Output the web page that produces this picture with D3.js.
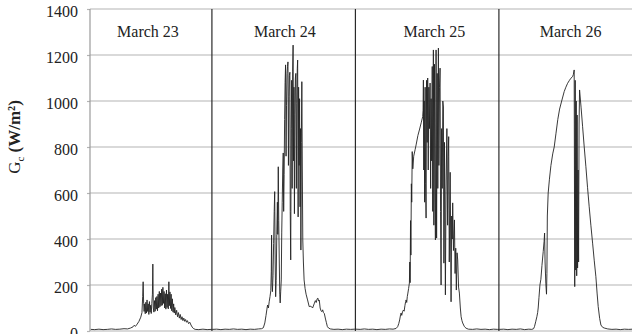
<!DOCTYPE html>
<html>
<head>
<meta charset="utf-8">
<script src="https://cdn.jsdelivr.net/npm/d3@7"></script>
<style>
  body { margin: 0; background: #fff; }
  text { font-family: "Liberation Serif", "Times New Roman", serif; }
</style>
</head>
<body>
<div id="viz"></div>
<script>
// irradiance readings per day: [hour of the day, Gc in W/m2]
const day1 = [[3.75,7],[4.4,6],[5.1,8],[5.8,6],[6.5,7],[7.2,9],[7.9,7],[8.6,8],[9.3,10],[9.9,9],[10.4,13],[10.8,18],[11.0,25],[11.2,20],[11.5,30],[11.8,42],[12.1,60],[12.3,80],[12.42,150],[12.5,214],[12.58,120],[12.66,85],[12.75,118],[12.85,75],[12.95,125],[13.05,78],[13.15,135],[13.25,85],[13.35,118],[13.45,72],[13.55,128],[13.65,82],[13.75,112],[13.85,76],[13.95,120],[14.05,160],[14.12,291],[14.2,100],[14.3,82],[14.4,132],[14.5,86],[14.6,145],[14.7,95],[14.8,150],[14.9,88],[15.0,160],[15.1,100],[15.2,172],[15.3,105],[15.4,165],[15.5,110],[15.6,182],[15.7,112],[15.8,190],[15.9,120],[16.0,172],[16.1,100],[16.2,162],[16.3,95],[16.4,178],[16.5,102],[16.6,160],[16.7,96],[16.8,214],[16.88,110],[16.98,170],[17.08,98],[17.18,160],[17.28,88],[17.38,140],[17.5,82],[17.6,118],[17.7,78],[17.8,102],[17.95,70],[18.1,90],[18.25,62],[18.4,80],[18.55,56],[18.7,72],[18.85,50],[19.0,62],[19.15,45],[19.3,56],[19.45,42],[19.6,50],[19.75,38],[19.9,45],[20.1,32],[20.3,38],[20.5,26],[20.7,17],[20.9,11],[21.2,7],[21.8,6],[22.5,8],[23.2,6],[23.9,7]];

const day2 = [[0.1,7],[0.8,8],[1.5,6],[2.2,8],[2.9,7],[3.6,9],[4.3,7],[5.0,8],[5.7,6],[6.4,8],[7.1,7],[7.8,9],[8.3,10],[8.6,14],[8.85,35],[9.05,68],[9.2,95],[9.31,113],[9.45,100],[9.58,127],[9.72,150],[9.85,175],[9.93,260],[9.98,417],[10.05,210],[10.12,171],[10.22,240],[10.32,380],[10.42,520],[10.5,606],[10.58,300],[10.66,149],[10.75,220],[10.85,420],[10.95,560],[11.02,420],[11.1,714],[11.18,480],[11.27,300],[11.35,160],[11.42,122],[11.5,170],[11.6,222],[11.68,430],[11.76,560],[11.85,700],[11.93,774],[12.0,520],[12.08,680],[12.16,920],[12.24,1080],[12.32,1157],[12.4,760],[12.48,980],[12.56,1120],[12.64,1150],[12.72,1170],[12.8,720],[12.88,1020],[12.96,1110],[13.04,1125],[13.1,520],[13.18,309],[13.26,880],[13.34,1090],[13.42,620],[13.5,1130],[13.58,1243],[13.65,740],[13.72,1060],[13.8,510],[13.88,940],[13.96,1100],[14.04,1120],[14.12,620],[14.2,990],[14.28,1140],[14.34,1178],[14.42,496],[14.5,1060],[14.58,720],[14.66,1010],[14.74,540],[14.82,880],[14.88,352],[14.96,820],[15.04,1084],[15.12,700],[15.2,396],[15.3,300],[15.42,222],[15.58,185],[15.75,160],[16.0,135],[16.27,106],[16.55,108],[16.84,100],[17.1,118],[17.3,132],[17.45,124],[17.6,140],[17.72,143],[17.85,130],[17.96,134],[18.1,100],[18.25,88],[18.38,84],[18.52,92],[18.66,80],[18.8,76],[19.0,52],[19.15,36],[19.3,20],[19.5,13],[19.8,9],[20.4,7],[21.1,8],[21.8,6],[22.5,8],[23.2,7],[23.9,8]];

const day3 = [[0.1,8],[0.8,7],[1.5,9],[2.2,7],[2.9,8],[3.6,6],[4.3,8],[5.0,7],[5.7,9],[6.3,8],[6.8,11],[7.07,19],[7.25,32],[7.4,48],[7.55,70],[7.64,78],[7.75,68],[7.88,84],[8.03,91],[8.15,86],[8.28,110],[8.4,128],[8.48,135],[8.58,124],[8.68,150],[8.78,165],[8.9,185],[9.03,209],[9.1,300],[9.15,210],[9.22,480],[9.28,330],[9.36,640],[9.42,560],[9.5,780],[9.6,705],[9.75,760],[10.0,790],[10.15,809],[10.45,850],[10.7,874],[11.0,905],[11.25,932],[11.32,960],[11.37,1091],[11.43,700],[11.5,1000],[11.58,560],[11.66,1060],[11.74,640],[11.82,491],[11.9,1090],[12.0,820],[12.09,1100],[12.18,700],[12.28,1060],[12.38,880],[12.49,1078],[12.58,620],[12.66,1010],[12.75,740],[12.85,1150],[12.93,520],[13.04,1222],[13.12,460],[13.22,1160],[13.3,600],[13.38,396],[13.49,1222],[13.58,404],[13.68,1120],[13.78,620],[13.88,1230],[13.96,720],[14.06,1060],[14.16,1143],[14.24,520],[14.33,200],[14.42,880],[14.52,620],[14.62,1000],[14.72,974],[14.8,295],[14.9,820],[15.05,157],[15.15,600],[15.3,880],[15.42,460],[15.52,760],[15.6,845],[15.7,300],[15.85,690],[16.0,127],[16.1,500],[16.2,400],[16.27,557],[16.4,350],[16.56,483],[16.67,250],[16.78,360],[16.88,178],[17.0,340],[17.11,309],[17.25,191],[17.39,165],[17.55,100],[17.68,62],[17.82,45],[17.94,35],[18.23,19],[18.51,12],[18.9,8],[19.6,7],[20.3,9],[21.0,7],[21.7,8],[22.4,6],[23.1,8],[23.8,7]];

const day4 = [[0.1,7],[0.8,8],[1.5,6],[2.2,8],[2.9,7],[3.6,9],[4.3,6],[5.0,8],[5.5,7],[5.8,10],[5.95,19],[6.15,40],[6.35,62],[6.48,80],[6.57,100],[6.7,145],[6.86,200],[7.02,225],[7.2,285],[7.41,345],[7.56,390],[7.64,426],[7.72,300],[7.85,205],[7.96,160],[8.03,250],[8.1,500],[8.24,600],[8.45,660],[8.7,720],[9.0,770],[9.25,800],[9.55,860],[9.85,920],[10.15,965],[10.5,1000],[10.92,1041],[11.2,1060],[11.49,1077],[11.8,1090],[12.04,1099],[12.32,1106],[12.45,1115],[12.59,1135],[12.68,193],[12.76,1090],[12.84,265],[12.93,1000],[13.01,240],[13.08,939],[13.16,274],[13.24,700],[13.33,300],[13.41,900],[13.49,1048],[13.75,970],[14.0,888],[14.27,800],[14.55,714],[14.82,625],[15.1,540],[15.38,460],[15.67,382],[15.95,305],[16.22,236],[16.42,165],[16.61,106],[16.85,55],[17.06,26],[17.35,16],[17.61,13],[18.2,9],[18.9,7],[19.6,8],[20.3,6],[21.0,8],[21.7,7],[22.4,8]];

const days = [day1, day2, day3, day4];
const dayLabels = ["March 23", "March 24", "March 25", "March 26"];
const yTicks = [0, 200, 400, 600, 800, 1000, 1200, 1400];

const width = 632, height = 334;
const plotLeft = 90, plotTop = 9, plotBottom = 331;
const serif = "'Liberation Serif', 'Times New Roman', serif";

const svg = d3.select("#viz")
    .append("svg")
    .attr("width", width)
    .attr("height", height);

// hours counted from March 23 00:00
const xScale = d3.scaleLinear()
    .domain([3.61, 94.26])
    .range([plotLeft, width]);

const yScale = d3.scaleLinear()
    .domain([0, 1400])
    .range([plotBottom, plotTop]);

// horizontal grid lines
svg.append("g")
    .selectAll("line")
    .data(yTicks)
    .join("line")
    .attr("x1", plotLeft)
    .attr("x2", width)
    .attr("y1", d => yScale(d))
    .attr("y2", d => yScale(d))
    .attr("stroke", "#b4b4b4")
    .attr("stroke-width", 1.2);

// y axis with small outside ticks
const yAxis = d3.axisLeft(yScale)
    .tickValues(yTicks)
    .tickSize(3)
    .tickPadding(9)
    .tickFormat(d3.format("d"));

const gy = svg.append("g")
    .attr("transform", `translate(${plotLeft},0)`)
    .call(yAxis)
    .attr("font-family", serif)
    .attr("font-size", 16);
gy.select(".domain").remove();
gy.selectAll(".tick line").attr("stroke", "#b4b4b4").attr("stroke-width", 1.2);
gy.selectAll(".tick text")
    .attr("dy", "0.48em")
    .attr("fill", "#222");

svg.append("line")
    .attr("x1", plotLeft).attr("x2", plotLeft)
    .attr("y1", plotTop).attr("y2", plotBottom)
    .attr("stroke", "#9a9a9a")
    .attr("stroke-width", 1.2);

// day separators
svg.append("g")
    .selectAll("line")
    .data([24, 48, 72])
    .join("line")
    .attr("x1", d => xScale(d))
    .attr("x2", d => xScale(d))
    .attr("y1", plotTop)
    .attr("y2", plotBottom)
    .attr("stroke", "#2a2a2a")
    .attr("stroke-width", 1.2);

// day titles
const labelHour = [13.3, 36.2, 61.2, 84];
svg.append("g")
    .selectAll("text")
    .data(dayLabels)
    .join("text")
    .attr("x", (d, i) => xScale(labelHour[i]))
    .attr("y", 37)
    .attr("text-anchor", "middle")
    .attr("fill", "#222")
    .style("font-size", "16px")
    .text(d => d);

// y axis title: Gc (W/m2)
const yTitle = svg.append("text")
    .attr("transform", "translate(20,137) rotate(-90)")
    .attr("text-anchor", "middle")
    .attr("fill", "#222")
    .style("font-size", "17px");
yTitle.append("tspan").text("G");
yTitle.append("tspan").attr("dy", 4).style("font-size", "11px").text("c");
yTitle.append("tspan").attr("dy", -4).style("font-weight", "bold").text(" (W/m²)");

// the irradiance trace, all days joined
const points = days.flatMap((day, i) => day.map(p => [p[0] + 24 * i, p[1]]));

svg.append("clipPath")
    .attr("id", "plot")
    .append("rect")
    .attr("x", plotLeft).attr("y", 0)
    .attr("width", width - plotLeft).attr("height", plotBottom + 2);

const line = d3.line()
    .x(d => xScale(d[0]))
    .y(d => yScale(d[1]));

svg.append("path")
    .datum(points)
    .attr("clip-path", "url(#plot)")
    .attr("fill", "none")
    .attr("stroke", "#222")
    .attr("stroke-width", 0.9)
    .attr("d", line);
</script>
</body>
</html>
